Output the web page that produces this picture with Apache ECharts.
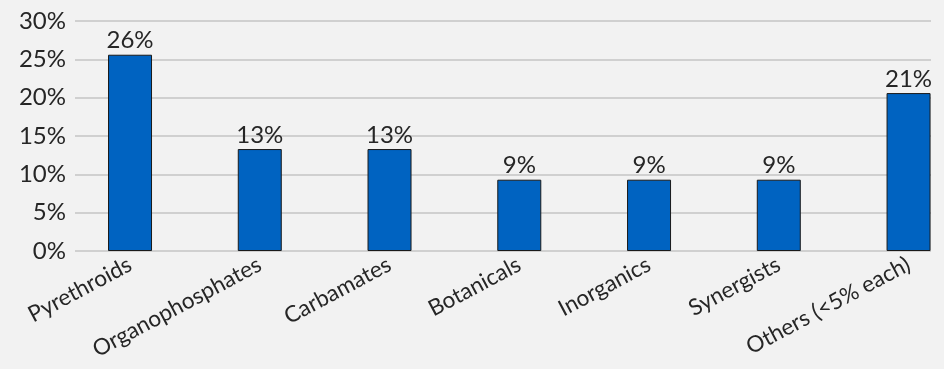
<!DOCTYPE html>
<html>
<head>
<meta charset="utf-8">
<script src="https://cdn.jsdelivr.net/npm/echarts@6/dist/echarts.min.js"></script>
<style>
html,body{margin:0;padding:0;background:#F2F2F2;}
#chart{width:944px;height:369px;}
</style>
</head>
<body>
<div id="chart"></div>
<script>
const categories = ["Pyrethroids","Organophosphates","Carbamates","Botanicals","Inorganics","Synergists","Others (<5% each)"];
const shares = [25.6, 13.3, 13.3, 9.3, 9.3, 9.3, 20.6];
const yTicks = [0, 5, 10, 15, 20, 25, 30];

const font = 'Lato';
const chart = echarts.init(document.getElementById('chart'), null, {renderer:'canvas'});
chart.setOption({
  backgroundColor: '#F2F2F2',
  animation: false,
  grid: {left: 75, right: 13, top: 21, bottom: 118, containLabel: false},
  xAxis: {
    type: 'value',
    min: -0.424,
    max: 6.173,
    axisLine: {show: false},
    axisTick: {show: false},
    splitLine: {show: false},
    axisLabel: {
      customValues: categories.map((c, i) => i),
      formatter: v => categories[Math.round(v)] || '',
      rotate: 28,
      margin: 12,
      fontFamily: font,
      fontSize: 22.5,
      color: '#262626'
    }
  },
  yAxis: {
    type: 'value',
    min: yTicks[0],
    max: yTicks[yTicks.length - 1],
    interval: 5,
    axisLine: {show: false},
    axisTick: {show: false},
    splitLine: {lineStyle: {color: '#D0D0D0', width: 2}},
    axisLabel: {
      formatter: v => v + '%',
      margin: 9,
      fontFamily: font,
      fontSize: 24,
      color: '#262626'
    }
  },
  series: [{
    type: 'bar',
    barWidth: 44,
    data: shares.map((v, i) => [i, v]),
    itemStyle: {color: '#0063C1', borderColor: '#1A1A1A', borderWidth: 1},
    label: {
      show: true,
      position: 'top',
      distance: 2,
      formatter: p => Math.round(p.value[1]) + '%',
      fontFamily: font,
      fontSize: 24,
      color: '#262626'
    }
  }]
});
</script>
</body>
</html>
